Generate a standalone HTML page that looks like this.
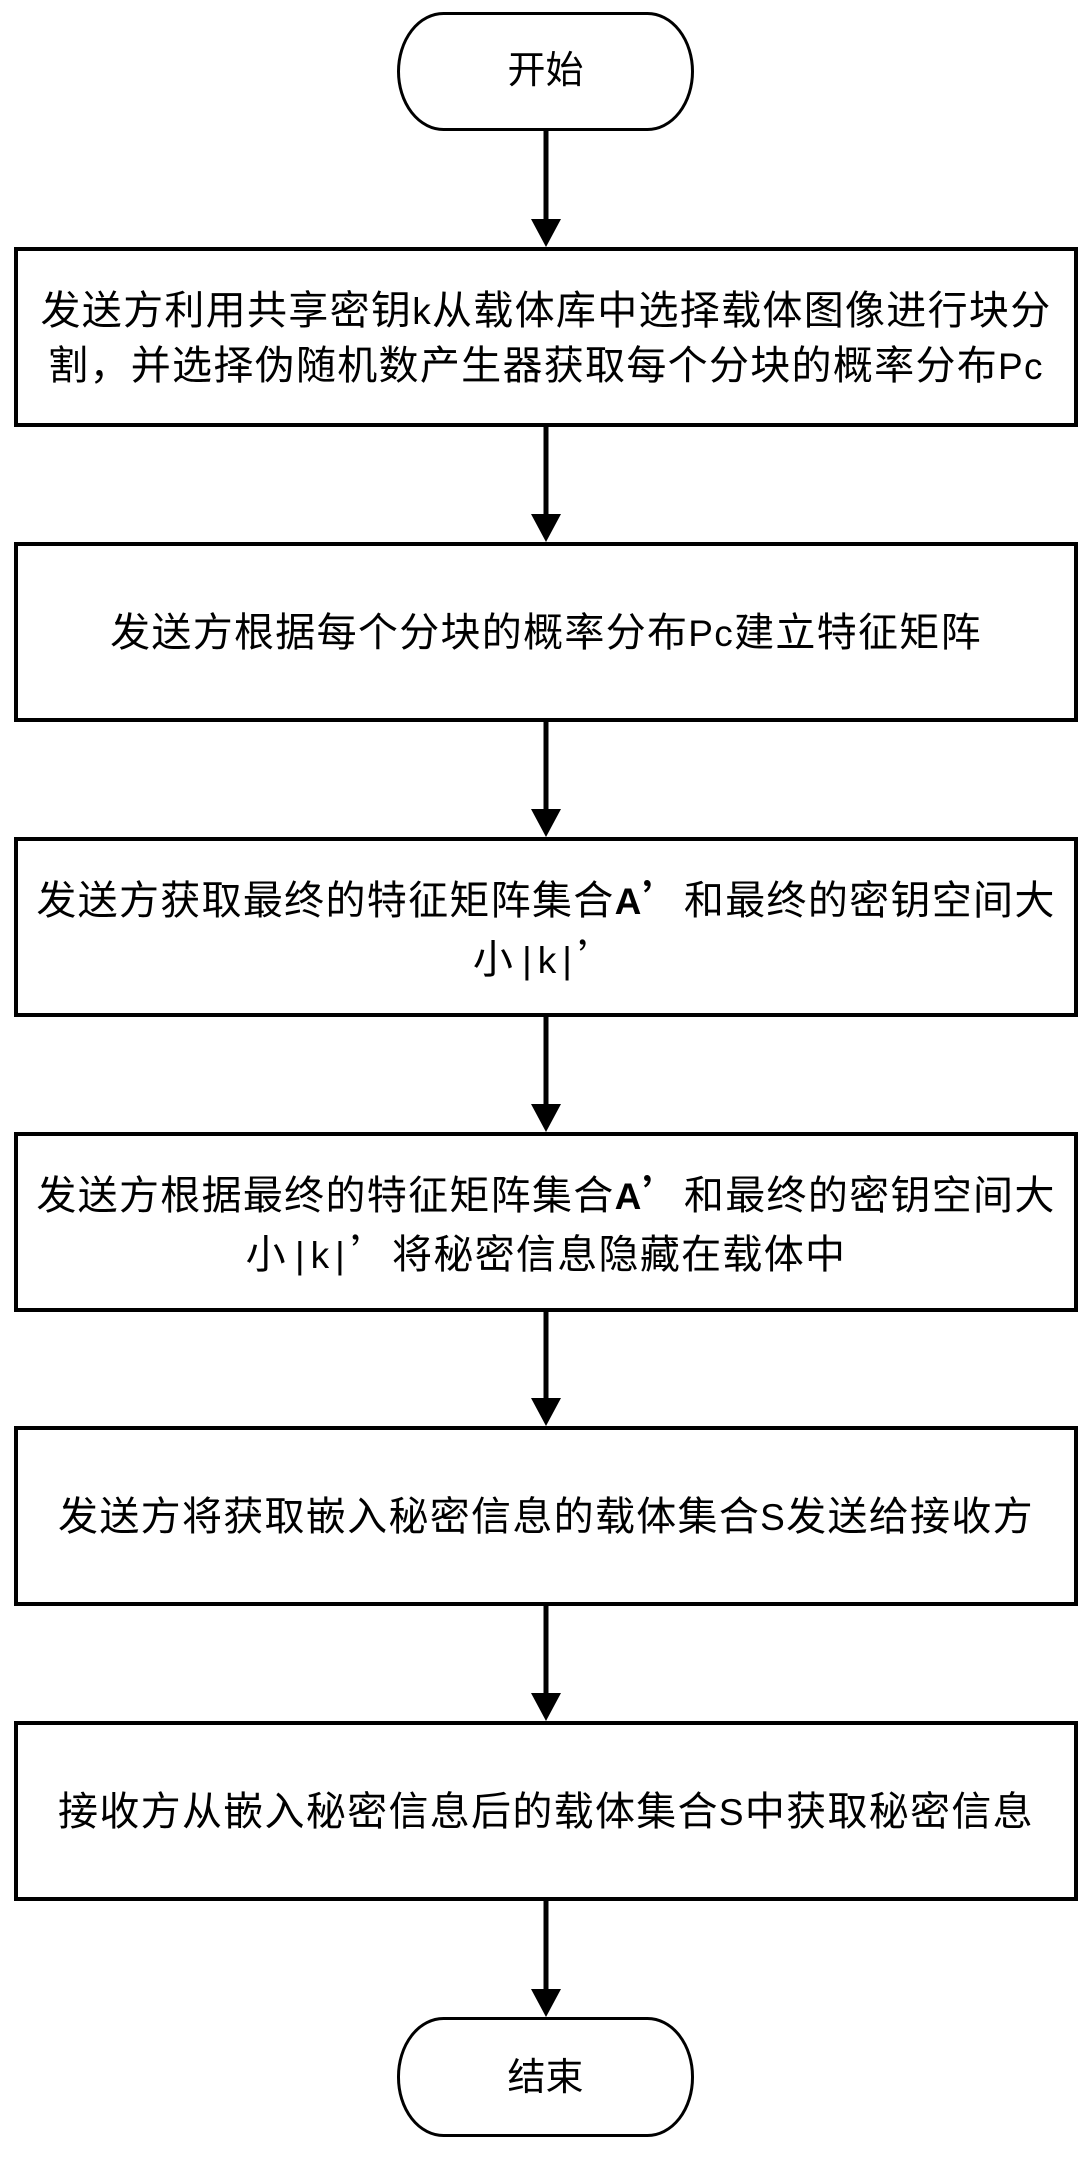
<!DOCTYPE html>
<html>
<head>
<meta charset="utf-8">
<style>
  html, body { margin:0; padding:0; background:#fff; }
  body { width:1091px; height:2157px; position:relative; overflow:hidden;
         font-family:"Liberation Sans","Noto Sans CJK SC",sans-serif; color:#000; }
  svg.bg { position:absolute; left:0; top:0; }
  .box { position:absolute; left:14px; width:1064px; height:180px; box-sizing:border-box;
         border:4px solid #000; display:flex; align-items:center; justify-content:center;
         text-align:center; }
  .t { font-size:40px; line-height:55px; letter-spacing:1.3px; white-space:nowrap; padding-top:3px; }
  .q { font-family:"Noto Sans CJK SC",sans-serif; }
  .b { font-weight:bold; font-size:37px; }
  .l { font-size:37px; }
  .k { font-size:37px; letter-spacing:6px; margin-left:8px; }
  .term { position:absolute; left:397px; width:297px; text-align:center;
          font-size:38px; line-height:50px; white-space:nowrap; }
</style>
</head>
<body>
<svg class="bg" width="1091" height="2157" viewBox="0 0 1091 2157">
  <rect x="398.5" y="13.5" width="294" height="116" rx="45" ry="58" fill="#fff" stroke="#000" stroke-width="3"/>
  <rect x="398.5" y="2018.5" width="294" height="117" rx="45" ry="58" fill="#fff" stroke="#000" stroke-width="3"/>
  <g fill="#000" stroke="none">
    <rect x="543.5" y="131" width="5" height="89"/>
    <polygon points="531,219 561,219 546,247"/>
    <rect x="543.5" y="427" width="5" height="88"/>
    <polygon points="531,514 561,514 546,542"/>
    <rect x="543.5" y="722" width="5" height="88"/>
    <polygon points="531,809 561,809 546,837"/>
    <rect x="543.5" y="1016" width="5" height="89"/>
    <polygon points="531,1104 561,1104 546,1132"/>
    <rect x="543.5" y="1311" width="5" height="88"/>
    <polygon points="531,1398 561,1398 546,1426"/>
    <rect x="543.5" y="1606" width="5" height="88"/>
    <polygon points="531,1693 561,1693 546,1721"/>
    <rect x="543.5" y="1901" width="5" height="89"/>
    <polygon points="531,1989 561,1989 546,2017"/>
  </g>
</svg>

<div class="term" style="top:46px;">开始</div>

<div class="box" style="top:247px;">
  <div class="t">发送方利用共享密钥<span class="l">k</span>从载体库中选择载体图像进行块分<br>割，并选择伪随机数产生器获取每个分块的概率分布<span class="l">Pc</span></div>
</div>

<div class="box" style="top:542px;">
  <div class="t">发送方根据每个分块的概率分布<span class="l">Pc</span>建立特征矩阵</div>
</div>

<div class="box" style="top:837px;">
  <div class="t">发送方获取最终的特征矩阵集合<span class="b">A</span><span class="q" style="font-weight:bold;">’</span>和最终的密钥空间大<br>小<span class="k">|k|</span><span class="q">’</span></div>
</div>

<div class="box" style="top:1132px;">
  <div class="t">发送方根据最终的特征矩阵集合<span class="b">A</span><span class="q" style="font-weight:bold;">’</span>和最终的密钥空间大<br>小<span class="k">|k|</span><span class="q">’</span>将秘密信息隐藏在载体中</div>
</div>

<div class="box" style="top:1426px;">
  <div class="t">发送方将获取嵌入秘密信息的载体集合<span class="l">S</span>发送给接收方</div>
</div>

<div class="box" style="top:1721px;">
  <div class="t">接收方从嵌入秘密信息后的载体集合<span class="l">S</span>中获取秘密信息</div>
</div>

<div class="term" style="top:2053px;">结束</div>
</body>
</html>
